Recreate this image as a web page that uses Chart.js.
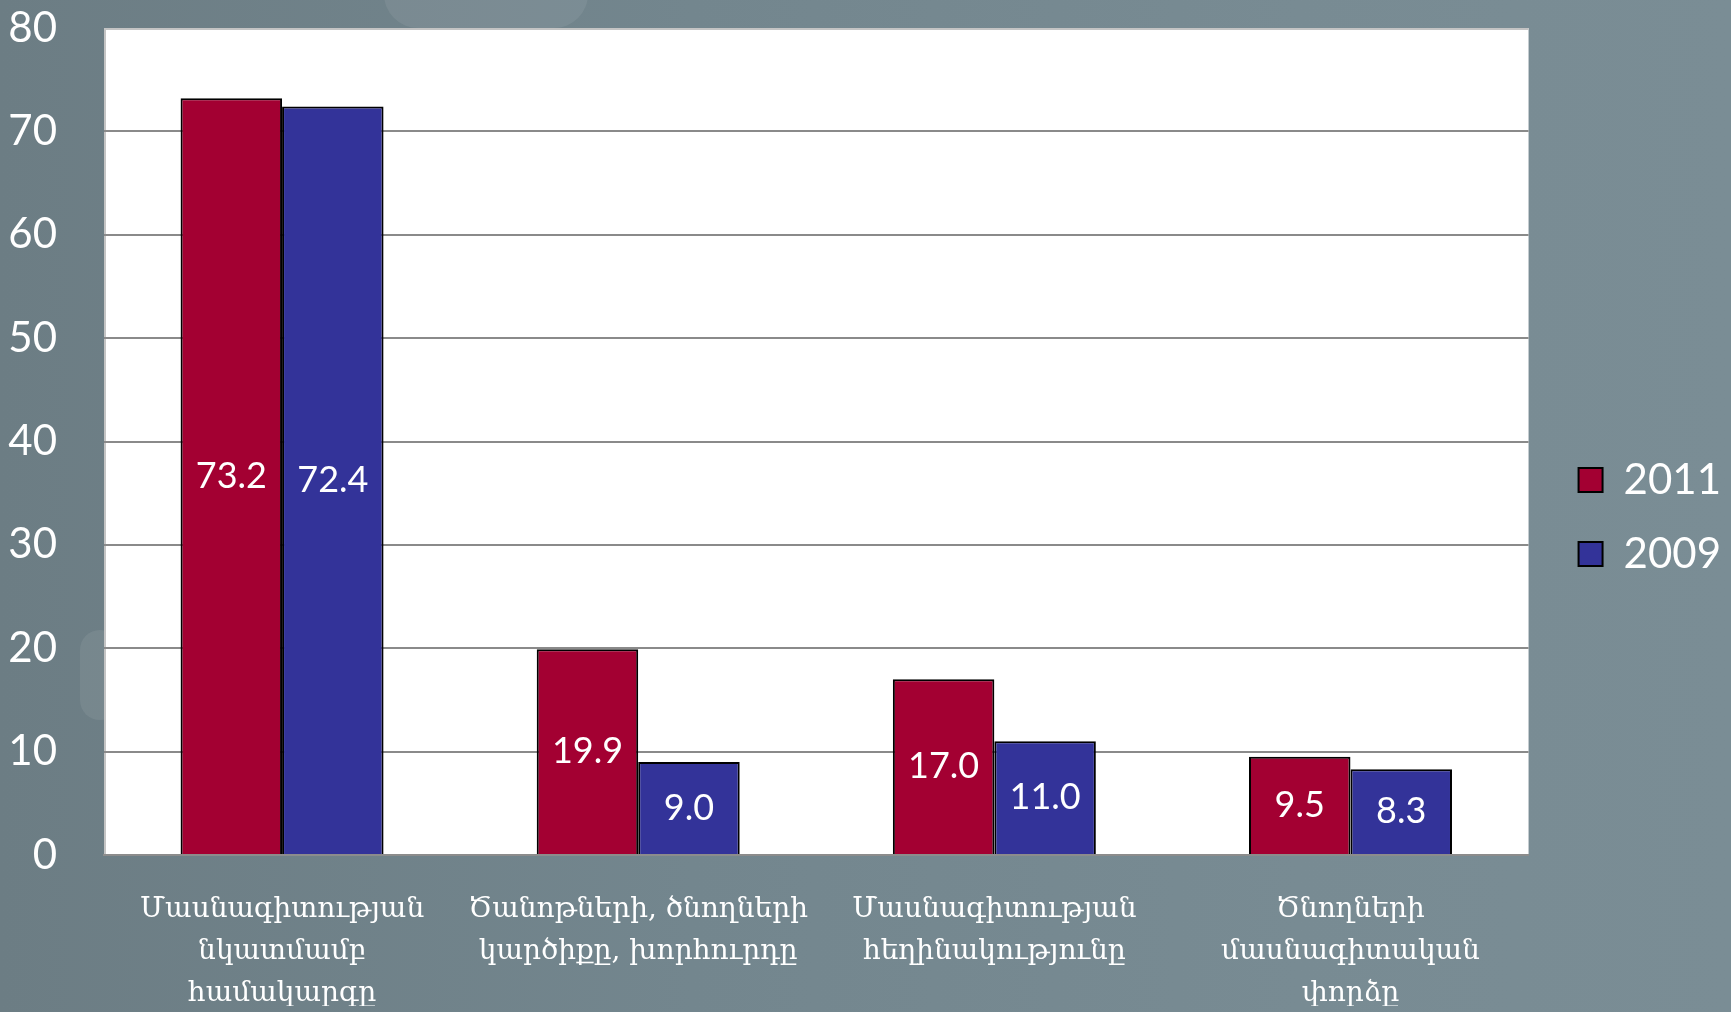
<!DOCTYPE html>
<html>
<head>
<meta charset="utf-8">
<script src="https://cdn.jsdelivr.net/npm/chart.js@4"></script>
<style>
  html, body { margin: 0; padding: 0; }
  body {
    width: 1731px; height: 1012px; overflow: hidden; position: relative;
    background: linear-gradient(90deg, #6c7d84 0%, #73868e 40%, #788b93 75%, #7a8d95 100%);
  }
  .blob { position: absolute; background: rgba(255,255,255,0.07); border-radius: 40px; }
  #wrap { position: absolute; left: 0; top: 0; width: 1731px; height: 1012px; }
</style>
</head>
<body>
<div class="blob" style="left:384px; top:-40px; width:204px; height:68px;"></div>
<div class="blob" style="left:80px; top:630px; width:40px; height:90px; border-radius:20px;"></div>
<div id="wrap"><canvas id="chart"></canvas></div>
<script>
// Данные графика
const categories = [
    ['Մասնագիտության', 'նկատմամբ', 'համակարգը'],
    ['Ծանոթների, ծնողների', 'կարծիքը, խորհուրդը'],
    ['Մասնագիտության', 'հեղինակությունը'],
    ['Ծնողների', 'մասնագիտական', 'փորձը']
];
const values2011 = [73.2, 19.9, 17.0, 9.5];
const values2009 = [72.4, 9.0, 11.0, 8.3];
const yTicks = [0, 10, 20, 30, 40, 50, 60, 70, 80];

// белый фон области графика
const plotBackground = {
    id: 'plotBackground',
    beforeDraw(chart) {
        const {ctx, chartArea} = chart;
        ctx.save();
        ctx.fillStyle = '#ffffff';
        ctx.fillRect(chartArea.left, chartArea.top, chartArea.right - chartArea.left, chartArea.bottom - chartArea.top);
        ctx.strokeStyle = '#c4c4c4';
        ctx.lineWidth = 2;
        ctx.beginPath();
        ctx.moveTo(chartArea.left, chartArea.top + 1);
        ctx.lineTo(chartArea.right, chartArea.top + 1);
        ctx.moveTo(chartArea.left + 1, chartArea.top);
        ctx.lineTo(chartArea.left + 1, chartArea.bottom);
        ctx.stroke();
        ctx.restore();
    }
};

// подписи значений в середине столбцов
const barValues = {
    id: 'barValues',
    afterDatasetsDraw(chart) {
        const {ctx} = chart;
        ctx.save();
        ctx.font = '36px Lato';
        ctx.fillStyle = '#ffffff';
        ctx.textAlign = 'center';
        ctx.textBaseline = 'middle';
        chart.data.datasets.forEach((ds, i) => {
            chart.getDatasetMeta(i).data.forEach((bar, j) => {
                ctx.fillText(ds.data[j].toFixed(1), bar.x, (bar.y + bar.base) / 2);
            });
        });
        ctx.restore();
    }
};

new Chart(document.getElementById('chart'), {
    type: 'bar',
    data: {
        labels: categories,
        datasets: [
            {
                label: '2011',
                data: values2011,
                backgroundColor: '#a30032',
                borderColor: '#000000',
                borderWidth: 2,
                barPercentage: 1,
                categoryPercentage: 0.57
            },
            {
                label: '2009',
                data: values2009,
                backgroundColor: '#333399',
                borderColor: '#000000',
                borderWidth: 2,
                barPercentage: 1,
                categoryPercentage: 0.57
            }
        ]
    },
    options: {
        responsive: true,
        maintainAspectRatio: false,
        animation: false,
        layout: { padding: { top: 28, bottom: 6, left: 0, right: 0 } },
        plugins: {
            legend: {
                position: 'right',
                labels: {
                    boxWidth: 24,
                    boxHeight: 24,
                    padding: 32,
                    color: '#ffffff',
                    font: { family: 'Lato', size: 42 }
                }
            },
            tooltip: { enabled: false }
        },
        scales: {
            x: {
                grid: { display: false },
                border: { display: true, color: '#8c8c8c', width: 2 },
                ticks: {
                    color: '#ffffff',
                    padding: 26,
                    maxRotation: 0,
                    autoSkip: false,
                    font: { family: 'DejaVu Serif', size: 28, lineHeight: 1.5 }
                },
                afterFit(scale) { scale.height = 151; }
            },
            y: {
                min: 0,
                max: 80,
                afterBuildTicks(scale) { scale.ticks = yTicks.map(v => ({ value: v })); },
                grid: {
                    color: c => c.tick && c.tick.value === 80 ? 'rgba(0,0,0,0)' : '#8a8a8a',
                    lineWidth: 2,
                    drawTicks: false
                },
                border: { display: false },
                ticks: {
                    color: '#ffffff',
                    padding: 47,
                    font: { family: 'Lato', size: 42 }
                },
                afterFit(scale) {
                    scale.width = 104;
                    scale.paddingTop = 0;
                    scale.paddingBottom = 0;
                }
            },
            gap: {
                position: 'right',
                display: true,
                grid: { display: false },
                border: { display: false },
                ticks: { display: false },
                afterFit(scale) { scale.width = 18; }
            }
        }
    },
    plugins: [plotBackground, barValues]
});
</script>
</body>
</html>
